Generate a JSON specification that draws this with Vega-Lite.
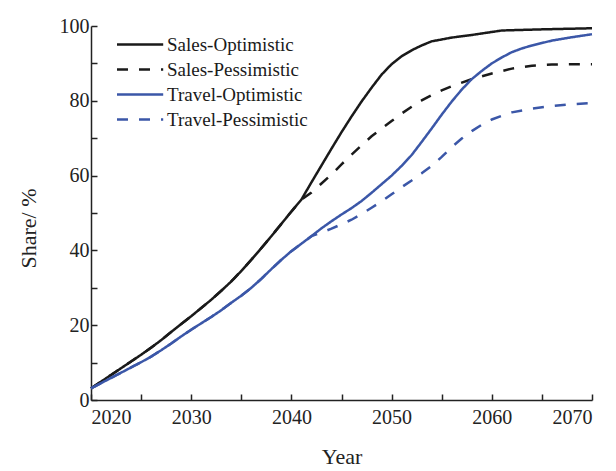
{
  "$schema": "https://vega.github.io/schema/vega-lite/v6.json",
  "width": 501,
  "height": 374,
  "autosize": {"type": "none"},
  "padding": {"left": 91, "top": 26, "right": 24, "bottom": 71},
  "background": "white",
  "config": {
    "view": {"stroke": null},
    "font": "Liberation Serif",
    "axis": {
      "grid": false,
      "domainColor": "#222222",
      "domainWidth": 1.5,
      "tickColor": "#222222",
      "tickWidth": 1.5,
      "labelFont": "Liberation Serif",
      "labelFontSize": 20,
      "labelColor": "#222222",
      "titleFont": "Liberation Serif",
      "titleFontSize": 22,
      "titleFontWeight": "normal",
      "titleColor": "#222222"
    }
  },
  "data": {
    "values": [
      {"series": "Sales-Optimistic", "year": 2020, "share": 3.1},
      {"series": "Sales-Optimistic", "year": 2021, "share": 4.9},
      {"series": "Sales-Optimistic", "year": 2022, "share": 6.7},
      {"series": "Sales-Optimistic", "year": 2023, "share": 8.5},
      {"series": "Sales-Optimistic", "year": 2024, "share": 10.3},
      {"series": "Sales-Optimistic", "year": 2025, "share": 12.1},
      {"series": "Sales-Optimistic", "year": 2026, "share": 14.0},
      {"series": "Sales-Optimistic", "year": 2027, "share": 16.0},
      {"series": "Sales-Optimistic", "year": 2028, "share": 18.2},
      {"series": "Sales-Optimistic", "year": 2029, "share": 20.3},
      {"series": "Sales-Optimistic", "year": 2030, "share": 22.4},
      {"series": "Sales-Optimistic", "year": 2031, "share": 24.6},
      {"series": "Sales-Optimistic", "year": 2032, "share": 26.8},
      {"series": "Sales-Optimistic", "year": 2033, "share": 29.2},
      {"series": "Sales-Optimistic", "year": 2034, "share": 31.7},
      {"series": "Sales-Optimistic", "year": 2035, "share": 34.5},
      {"series": "Sales-Optimistic", "year": 2036, "share": 37.5},
      {"series": "Sales-Optimistic", "year": 2037, "share": 40.6},
      {"series": "Sales-Optimistic", "year": 2038, "share": 43.8},
      {"series": "Sales-Optimistic", "year": 2039, "share": 47.1},
      {"series": "Sales-Optimistic", "year": 2040, "share": 50.4},
      {"series": "Sales-Optimistic", "year": 2041, "share": 53.6},
      {"series": "Sales-Optimistic", "year": 2042, "share": 58.2},
      {"series": "Sales-Optimistic", "year": 2043, "share": 62.7},
      {"series": "Sales-Optimistic", "year": 2044, "share": 67.2},
      {"series": "Sales-Optimistic", "year": 2045, "share": 71.6},
      {"series": "Sales-Optimistic", "year": 2046, "share": 75.8},
      {"series": "Sales-Optimistic", "year": 2047, "share": 79.8},
      {"series": "Sales-Optimistic", "year": 2048, "share": 83.5},
      {"series": "Sales-Optimistic", "year": 2049, "share": 87.0},
      {"series": "Sales-Optimistic", "year": 2050, "share": 89.8},
      {"series": "Sales-Optimistic", "year": 2051, "share": 91.9},
      {"series": "Sales-Optimistic", "year": 2052, "share": 93.5},
      {"series": "Sales-Optimistic", "year": 2053, "share": 94.8},
      {"series": "Sales-Optimistic", "year": 2054, "share": 95.9},
      {"series": "Sales-Optimistic", "year": 2055, "share": 96.4},
      {"series": "Sales-Optimistic", "year": 2056, "share": 96.9},
      {"series": "Sales-Optimistic", "year": 2058, "share": 97.6},
      {"series": "Sales-Optimistic", "year": 2060, "share": 98.4},
      {"series": "Sales-Optimistic", "year": 2061, "share": 98.8},
      {"series": "Sales-Optimistic", "year": 2065, "share": 99.1},
      {"series": "Sales-Optimistic", "year": 2070, "share": 99.4},

      {"series": "Sales-Pessimistic", "year": 2020, "share": 3.1},
      {"series": "Sales-Pessimistic", "year": 2021, "share": 4.9},
      {"series": "Sales-Pessimistic", "year": 2022, "share": 6.7},
      {"series": "Sales-Pessimistic", "year": 2023, "share": 8.5},
      {"series": "Sales-Pessimistic", "year": 2024, "share": 10.3},
      {"series": "Sales-Pessimistic", "year": 2025, "share": 12.1},
      {"series": "Sales-Pessimistic", "year": 2026, "share": 14.0},
      {"series": "Sales-Pessimistic", "year": 2027, "share": 16.0},
      {"series": "Sales-Pessimistic", "year": 2028, "share": 18.2},
      {"series": "Sales-Pessimistic", "year": 2029, "share": 20.3},
      {"series": "Sales-Pessimistic", "year": 2030, "share": 22.4},
      {"series": "Sales-Pessimistic", "year": 2031, "share": 24.6},
      {"series": "Sales-Pessimistic", "year": 2032, "share": 26.8},
      {"series": "Sales-Pessimistic", "year": 2033, "share": 29.2},
      {"series": "Sales-Pessimistic", "year": 2034, "share": 31.7},
      {"series": "Sales-Pessimistic", "year": 2035, "share": 34.5},
      {"series": "Sales-Pessimistic", "year": 2036, "share": 37.5},
      {"series": "Sales-Pessimistic", "year": 2037, "share": 40.6},
      {"series": "Sales-Pessimistic", "year": 2038, "share": 43.8},
      {"series": "Sales-Pessimistic", "year": 2039, "share": 47.1},
      {"series": "Sales-Pessimistic", "year": 2040, "share": 50.4},
      {"series": "Sales-Pessimistic", "year": 2041, "share": 53.6},
      {"series": "Sales-Pessimistic", "year": 2042, "share": 55.5},
      {"series": "Sales-Pessimistic", "year": 2043, "share": 57.9},
      {"series": "Sales-Pessimistic", "year": 2044, "share": 60.3},
      {"series": "Sales-Pessimistic", "year": 2045, "share": 63.0},
      {"series": "Sales-Pessimistic", "year": 2046, "share": 65.6},
      {"series": "Sales-Pessimistic", "year": 2047, "share": 68.1},
      {"series": "Sales-Pessimistic", "year": 2048, "share": 70.5},
      {"series": "Sales-Pessimistic", "year": 2049, "share": 72.6},
      {"series": "Sales-Pessimistic", "year": 2050, "share": 74.6},
      {"series": "Sales-Pessimistic", "year": 2051, "share": 76.6},
      {"series": "Sales-Pessimistic", "year": 2052, "share": 78.4},
      {"series": "Sales-Pessimistic", "year": 2053, "share": 80.1},
      {"series": "Sales-Pessimistic", "year": 2054, "share": 81.5},
      {"series": "Sales-Pessimistic", "year": 2055, "share": 82.8},
      {"series": "Sales-Pessimistic", "year": 2056, "share": 83.9},
      {"series": "Sales-Pessimistic", "year": 2058, "share": 85.8},
      {"series": "Sales-Pessimistic", "year": 2060, "share": 87.3},
      {"series": "Sales-Pessimistic", "year": 2062, "share": 88.6},
      {"series": "Sales-Pessimistic", "year": 2064, "share": 89.4},
      {"series": "Sales-Pessimistic", "year": 2066, "share": 89.7},
      {"series": "Sales-Pessimistic", "year": 2070, "share": 89.8},

      {"series": "Travel-Optimistic", "year": 2020, "share": 3.1},
      {"series": "Travel-Optimistic", "year": 2021, "share": 4.5},
      {"series": "Travel-Optimistic", "year": 2022, "share": 5.9},
      {"series": "Travel-Optimistic", "year": 2023, "share": 7.3},
      {"series": "Travel-Optimistic", "year": 2024, "share": 8.7},
      {"series": "Travel-Optimistic", "year": 2025, "share": 10.1},
      {"series": "Travel-Optimistic", "year": 2026, "share": 11.6},
      {"series": "Travel-Optimistic", "year": 2027, "share": 13.3},
      {"series": "Travel-Optimistic", "year": 2028, "share": 15.1},
      {"series": "Travel-Optimistic", "year": 2029, "share": 17.0},
      {"series": "Travel-Optimistic", "year": 2030, "share": 18.8},
      {"series": "Travel-Optimistic", "year": 2031, "share": 20.5},
      {"series": "Travel-Optimistic", "year": 2032, "share": 22.2},
      {"series": "Travel-Optimistic", "year": 2033, "share": 24.0},
      {"series": "Travel-Optimistic", "year": 2034, "share": 26.0},
      {"series": "Travel-Optimistic", "year": 2035, "share": 27.9},
      {"series": "Travel-Optimistic", "year": 2036, "share": 30.0},
      {"series": "Travel-Optimistic", "year": 2037, "share": 32.4},
      {"series": "Travel-Optimistic", "year": 2038, "share": 35.0},
      {"series": "Travel-Optimistic", "year": 2039, "share": 37.5},
      {"series": "Travel-Optimistic", "year": 2040, "share": 39.8},
      {"series": "Travel-Optimistic", "year": 2041, "share": 41.8},
      {"series": "Travel-Optimistic", "year": 2042, "share": 43.8},
      {"series": "Travel-Optimistic", "year": 2043, "share": 45.9},
      {"series": "Travel-Optimistic", "year": 2044, "share": 47.8},
      {"series": "Travel-Optimistic", "year": 2045, "share": 49.6},
      {"series": "Travel-Optimistic", "year": 2046, "share": 51.3},
      {"series": "Travel-Optimistic", "year": 2047, "share": 53.2},
      {"series": "Travel-Optimistic", "year": 2048, "share": 55.4},
      {"series": "Travel-Optimistic", "year": 2049, "share": 57.7},
      {"series": "Travel-Optimistic", "year": 2050, "share": 60.0},
      {"series": "Travel-Optimistic", "year": 2051, "share": 62.6},
      {"series": "Travel-Optimistic", "year": 2052, "share": 65.5},
      {"series": "Travel-Optimistic", "year": 2053, "share": 69.0},
      {"series": "Travel-Optimistic", "year": 2054, "share": 72.6},
      {"series": "Travel-Optimistic", "year": 2055, "share": 76.3},
      {"series": "Travel-Optimistic", "year": 2056, "share": 79.8},
      {"series": "Travel-Optimistic", "year": 2057, "share": 83.0},
      {"series": "Travel-Optimistic", "year": 2058, "share": 85.8},
      {"series": "Travel-Optimistic", "year": 2059, "share": 88.0},
      {"series": "Travel-Optimistic", "year": 2060, "share": 90.0},
      {"series": "Travel-Optimistic", "year": 2061, "share": 91.6},
      {"series": "Travel-Optimistic", "year": 2062, "share": 93.0},
      {"series": "Travel-Optimistic", "year": 2063, "share": 94.0},
      {"series": "Travel-Optimistic", "year": 2064, "share": 94.8},
      {"series": "Travel-Optimistic", "year": 2066, "share": 96.1},
      {"series": "Travel-Optimistic", "year": 2068, "share": 97.0},
      {"series": "Travel-Optimistic", "year": 2070, "share": 97.8},

      {"series": "Travel-Pessimistic", "year": 2020, "share": 3.1},
      {"series": "Travel-Pessimistic", "year": 2021, "share": 4.5},
      {"series": "Travel-Pessimistic", "year": 2022, "share": 5.9},
      {"series": "Travel-Pessimistic", "year": 2023, "share": 7.3},
      {"series": "Travel-Pessimistic", "year": 2024, "share": 8.7},
      {"series": "Travel-Pessimistic", "year": 2025, "share": 10.1},
      {"series": "Travel-Pessimistic", "year": 2026, "share": 11.6},
      {"series": "Travel-Pessimistic", "year": 2027, "share": 13.3},
      {"series": "Travel-Pessimistic", "year": 2028, "share": 15.1},
      {"series": "Travel-Pessimistic", "year": 2029, "share": 17.0},
      {"series": "Travel-Pessimistic", "year": 2030, "share": 18.8},
      {"series": "Travel-Pessimistic", "year": 2031, "share": 20.5},
      {"series": "Travel-Pessimistic", "year": 2032, "share": 22.2},
      {"series": "Travel-Pessimistic", "year": 2033, "share": 24.0},
      {"series": "Travel-Pessimistic", "year": 2034, "share": 26.0},
      {"series": "Travel-Pessimistic", "year": 2035, "share": 27.9},
      {"series": "Travel-Pessimistic", "year": 2036, "share": 30.0},
      {"series": "Travel-Pessimistic", "year": 2037, "share": 32.4},
      {"series": "Travel-Pessimistic", "year": 2038, "share": 35.0},
      {"series": "Travel-Pessimistic", "year": 2039, "share": 37.5},
      {"series": "Travel-Pessimistic", "year": 2040, "share": 39.8},
      {"series": "Travel-Pessimistic", "year": 2041, "share": 41.8},
      {"series": "Travel-Pessimistic", "year": 2042, "share": 43.8},
      {"series": "Travel-Pessimistic", "year": 2043, "share": 44.8},
      {"series": "Travel-Pessimistic", "year": 2044, "share": 45.8},
      {"series": "Travel-Pessimistic", "year": 2045, "share": 47.0},
      {"series": "Travel-Pessimistic", "year": 2046, "share": 48.2},
      {"series": "Travel-Pessimistic", "year": 2047, "share": 49.7},
      {"series": "Travel-Pessimistic", "year": 2048, "share": 51.4},
      {"series": "Travel-Pessimistic", "year": 2049, "share": 53.1},
      {"series": "Travel-Pessimistic", "year": 2050, "share": 55.0},
      {"series": "Travel-Pessimistic", "year": 2051, "share": 56.9},
      {"series": "Travel-Pessimistic", "year": 2052, "share": 58.7},
      {"series": "Travel-Pessimistic", "year": 2053, "share": 60.6},
      {"series": "Travel-Pessimistic", "year": 2054, "share": 62.6},
      {"series": "Travel-Pessimistic", "year": 2055, "share": 65.0},
      {"series": "Travel-Pessimistic", "year": 2056, "share": 67.6},
      {"series": "Travel-Pessimistic", "year": 2057, "share": 69.9},
      {"series": "Travel-Pessimistic", "year": 2058, "share": 71.9},
      {"series": "Travel-Pessimistic", "year": 2059, "share": 73.6},
      {"series": "Travel-Pessimistic", "year": 2060, "share": 75.0},
      {"series": "Travel-Pessimistic", "year": 2061, "share": 76.0},
      {"series": "Travel-Pessimistic", "year": 2062, "share": 76.9},
      {"series": "Travel-Pessimistic", "year": 2064, "share": 77.9},
      {"series": "Travel-Pessimistic", "year": 2066, "share": 78.6},
      {"series": "Travel-Pessimistic", "year": 2068, "share": 79.1},
      {"series": "Travel-Pessimistic", "year": 2070, "share": 79.4}
    ]
  },
  "mark": {"type": "line", "strokeWidth": 2.5, "interpolate": "linear"},
  "encoding": {
    "x": {
      "field": "year",
      "type": "quantitative",
      "scale": {"domain": [2020, 2070], "nice": false, "zero": false},
      "axis": {
        "title": "Year",
        "values": [2020, 2025, 2030, 2035, 2040, 2045, 2050, 2055, 2060, 2065, 2070],
        "format": "d",
        "labelExpr": "datum.value % 10 === 0 ? datum.label : ''",
        "tickSize": -6,
        "labelPadding": 13,
        "titleY": 56,
        "titleBaseline": "middle"
      }
    },
    "y": {
      "field": "share",
      "type": "quantitative",
      "scale": {"domain": [0, 100], "nice": false},
      "axis": {
        "title": "Share/ %",
        "values": [0, 10, 20, 30, 40, 50, 60, 70, 80, 90, 100],
        "labelExpr": "datum.value % 20 === 0 ? datum.label : ''",
        "tickSize": -6,
        "labelPadding": 8,
        "titleX": -63,
        "titleY": 202,
        "titleAngle": 270,
        "titleBaseline": "middle",
        "titleAlign": "center"
      }
    },
    "color": {
      "field": "series",
      "type": "nominal",
      "scale": {
        "domain": ["Sales-Optimistic", "Sales-Pessimistic", "Travel-Optimistic", "Travel-Pessimistic"],
        "range": ["#1a1a1a", "#1a1a1a", "#3b57a8", "#3b57a8"]
      },
      "legend": {
        "title": null,
        "orient": "none",
        "legendX": 39.6,
        "legendY": 9,
        "padding": 0,
        "symbolType": "M-4.2,0H4.2",
        "symbolSize": 121,
        "symbolStrokeWidth": 2.5,
        "labelFont": "Liberation Serif",
        "labelFontSize": 19,
        "labelColor": "#1a1a1a",
        "labelOffset": 17.4,
        "rowPadding": 5
      }
    },
    "strokeDash": {
      "field": "series",
      "type": "nominal",
      "scale": {
        "domain": ["Sales-Optimistic", "Sales-Pessimistic", "Travel-Optimistic", "Travel-Pessimistic"],
        "range": [[1, 0], [11, 11], [1, 0], [11, 11]]
      },
      "legend": null
    }
  }
}
